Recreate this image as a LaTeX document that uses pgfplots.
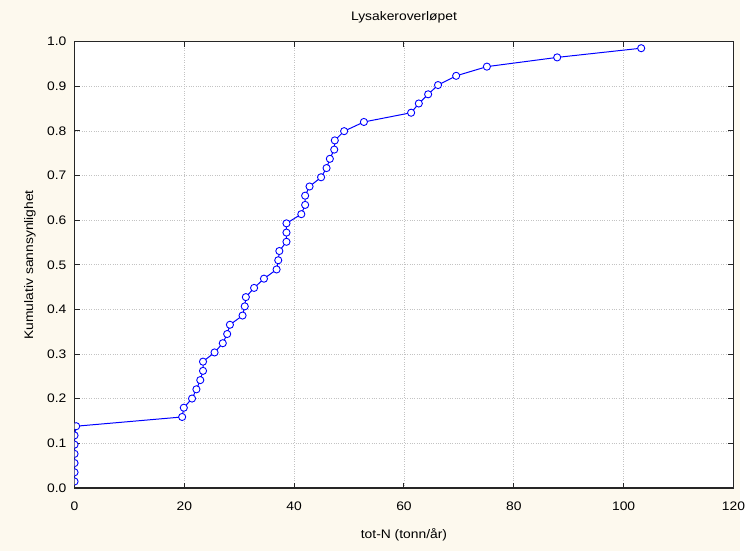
\documentclass[border=0pt]{standalone}
\usepackage{fontspec}
\setmainfont[FakeStretch=1.12]{Liberation Sans}
\usepackage{pgfplots}
\pgfplotsset{compat=1.18}
\definecolor{bgcream}{RGB}{253,249,238}
\definecolor{gridgray}{RGB}{195,195,195}
\definecolor{lineblue}{RGB}{0,0,255}
\begin{document}
\begin{tikzpicture}
\fill[bgcream] (-75bp,-63bp) rectangle (670bp,491bp);
\begin{axis}[
  at={(0,0)}, anchor=south west,
  scale only axis, width=663bp, height=449bp,
  xmin=0, xmax=120, ymin=0, ymax=1,
  xtick={0,20,40,60,80,100,120},
  ytick={0,0.1,0.2,0.3,0.4,0.5,0.6,0.7,0.8,0.9,1.0},
  yticklabels={0.0,0.1,0.2,0.3,0.4,0.5,0.6,0.7,0.8,0.9,1.0},
  /pgf/number format/assume math mode=true,
  font=\fontsize{12.5}{15}\selectfont,
  axis background/.style={fill=white},
  axis line style={line width=1.3bp, black!85},
  tick align=inside,
  major tick length=5bp,
  tick style={line width=1bp, black!85},
  grid=major,
  major grid style={gridgray, dotted, line width=0.8bp},
  xticklabel style={anchor=center, inner sep=0pt, yshift=-18bp},
  yticklabel style={anchor=east, inner sep=0pt, xshift=-8bp},
  title={Lysakeroverløpet},
  title style={at={(axis description cs:0.5,1)}, anchor=center, yshift=19bp, inner sep=0pt},
  xlabel={tot-N (tonn/år)},
  xlabel style={at={(axis description cs:0.5,0)}, anchor=center, yshift=-47bp, inner sep=0pt},
  ylabel={Kumulativ sannsynlighet},
  ylabel style={at={(axis description cs:0,0.5)}, anchor=center, yshift=45bp, inner sep=0pt},
  clip marker paths=true,
]
\addplot[lineblue, line width=1bp, mark=*, mark size=3.6bp,
  mark options={fill=white, draw=lineblue, line width=0.9bp, solid}]
coordinates {
(0.0,0.0145) (0.0,0.0351) (0.0,0.0558) (0.0,0.0764) (0.0,0.0971) (0.0,0.1178)
(0.3,0.1384) (19.6,0.1591) (19.9,0.1798) (21.4,0.2004) (22.2,0.2211) (22.9,0.2417)
(23.4,0.2624) (23.4,0.2831) (25.5,0.3037) (27.0,0.3244) (27.8,0.3450) (28.3,0.3657)
(30.6,0.3864) (31.0,0.4070) (31.2,0.4277) (32.7,0.4483) (34.5,0.4690) (36.8,0.4897)
(37.1,0.5103) (37.3,0.5310) (38.6,0.5517) (38.6,0.5723) (38.6,0.5930) (41.3,0.6136)
(42.0,0.6343) (42.0,0.6550) (42.8,0.6756) (44.9,0.6963) (45.9,0.7169) (46.5,0.7376)
(47.3,0.7583) (47.4,0.7789) (49.1,0.7996) (52.7,0.8202) (61.3,0.8409) (62.7,0.8616)
(64.4,0.8822) (66.2,0.9029) (69.5,0.9236) (75.1,0.9442) (87.9,0.9649) (103.2,0.9855)
};
\end{axis}
\end{tikzpicture}
\end{document}
